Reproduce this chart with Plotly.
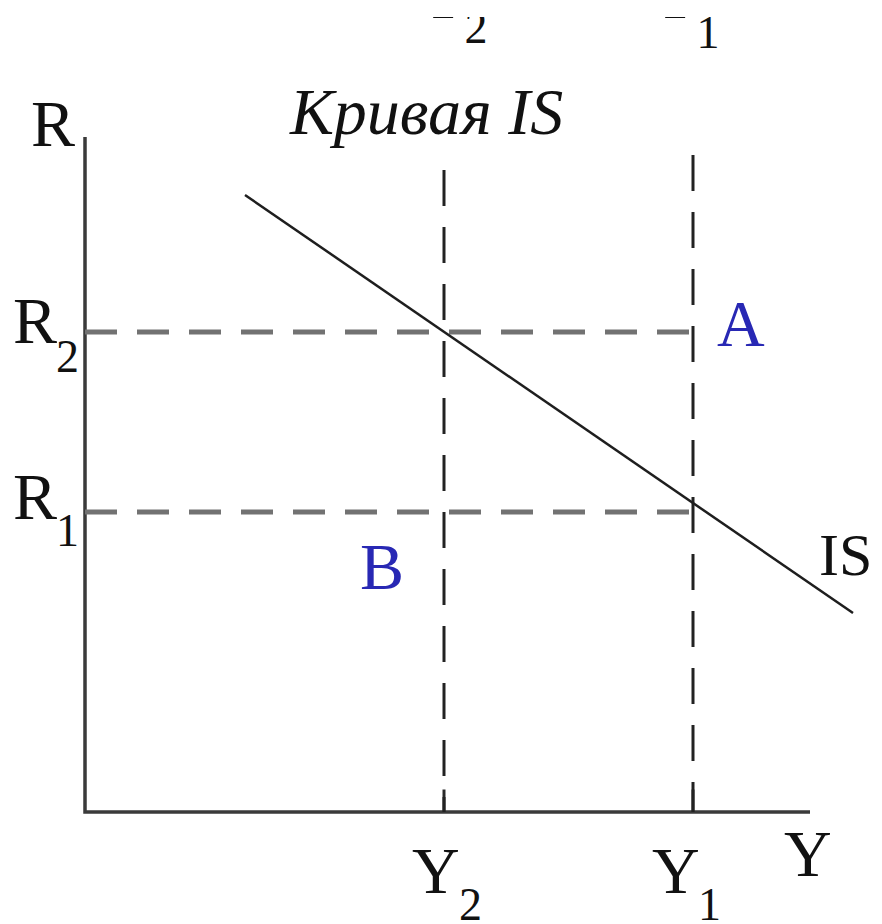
import plotly.graph_objects as go

# Levels (abstract units, origin at the axes corner)
Y_names = ["Y2", "Y1"]
Y_values = [7.18, 12.16]
Y_dash_top = [12.84, 13.14]
R_names = ["R2", "R1"]
R_values = [9.6, 6.0]
IS_x = [3.2, 15.36]
IS_y = [12.34, 3.98]
axis_x_end = 14.5
axis_y_end = 13.5

SERIF = "Liberation Serif, Times New Roman, serif"
BIG = 66
SUB = 46
INK = "#111111"
BLUE = "#2828b4"

fig = go.Figure()

# axes
fig.add_trace(go.Scatter(x=[0, 0, axis_x_end], y=[axis_y_end, 0, 0], mode="lines",
                         line=dict(color="#3a3a3a", width=3.5), hoverinfo="skip"))
# small ticks at Y levels
for v in Y_values:
    fig.add_trace(go.Scatter(x=[v, v], y=[0, 0.45], mode="lines",
                             line=dict(color="#2a2a2a", width=3), hoverinfo="skip"))

# vertical dashed lines (drawn from the top down)
for v, top in zip(Y_values, Y_dash_top):
    fig.add_trace(go.Scatter(x=[v, v], y=[top, 0], mode="lines",
                             line=dict(color="#222222", width=3, dash="36px,21px"), hoverinfo="skip"))
# horizontal dashed lines
for r in R_values:
    fig.add_trace(go.Scatter(x=[0, Y_values[1]], y=[r, r], mode="lines",
                             line=dict(color="#727272", width=5, dash="32px,20px"), hoverinfo="skip"))

# IS curve
fig.add_trace(go.Scatter(x=IS_x, y=IS_y, mode="lines",
                         line=dict(color="#1e1e1e", width=2.5), hoverinfo="skip"))

# labels cut at the top edge (clipped by the plot area)
fig.add_trace(go.Scatter(x=[Y_values[0] - 0.02, Y_values[1] - 0.36], y=[16.22, 16.22],
                         mode="text", text=["Y", "Y"], textposition="middle center",
                         textfont=dict(family=SERIF, size=BIG, color=INK),
                         cliponaxis=True, hoverinfo="skip"))
fig.add_trace(go.Scatter(x=[Y_values[0] + 0.64, Y_values[1] + 0.3], y=[15.62, 15.52],
                         mode="text", text=["2", "1"], textposition="middle center",
                         textfont=dict(family=SERIF, size=SUB, color=INK),
                         cliponaxis=True, hoverinfo="skip"))


def ann(x, y, text, size=BIG, color=INK, italic=False):
    if italic:
        text = "<i>" + text + "</i>"
    fig.add_annotation(x=x, y=y, text=text, showarrow=False,
                       font=dict(family=SERIF, size=size, color=color),
                       xanchor="center", yanchor="middle", xref="x", yref="y")


# R axis label
ann(-0.64, 13.78, "R")
# R2 / R1
ann(-1.0, 9.84, "R")
ann(-0.36, 9.12, "2", SUB)
ann(-1.0, 6.32, "R")
ann(-0.36, 5.64, "1", SUB)
# Y2 / Y1 under the axis
ann(7.02, -1.16, "Y")
ann(7.7, -1.84, "2", SUB)
ann(11.82, -1.16, "Y")
ann(12.48, -1.84, "1", SUB)
# Y axis label
ann(14.46, -0.82, "Y")
# IS label
ann(15.2, 5.14, "IS", size=60)
# points
ann(13.12, 9.78, "A", color=BLUE)
ann(5.94, 4.92, "B", color=BLUE)
# title-like caption
ann(6.82, 14.02, "Кривая IS", italic=True)

fig.update_layout(
    width=882, height=924,
    margin=dict(l=0, r=0, t=9, b=0),
    paper_bgcolor="white", plot_bgcolor="white",
    showlegend=False,
    xaxis=dict(range=[-1.54, 16.1], visible=False, fixedrange=True),
    yaxis=dict(range=[-2.4, 15.9], visible=False, fixedrange=True),
)
fig.write_html("out.html")
